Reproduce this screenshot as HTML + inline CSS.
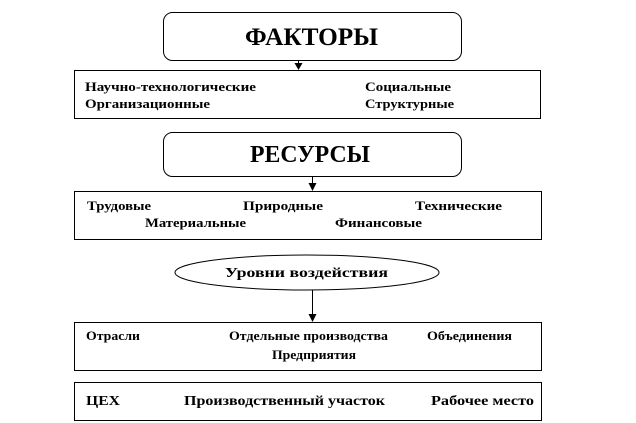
<!DOCTYPE html>
<html><head><meta charset="utf-8"><style>
html,body{margin:0;padding:0;background:#fff;}
svg{display:block}
text{font-family:"Liberation Serif",serif;font-weight:bold;fill:#000}
</style></head><body>
<svg width="636" height="423" viewBox="0 0 636 423" xmlns="http://www.w3.org/2000/svg">
<g fill="none" stroke="#000" stroke-width="1">
<rect x="163.5" y="12.5" width="298" height="48" rx="9"/>
<rect x="74.5" y="70.5" width="466" height="48"/>
<rect x="163.5" y="132.5" width="298" height="44" rx="9"/>
<rect x="74.5" y="191.5" width="467" height="48"/>
<ellipse cx="307" cy="272.5" rx="132" ry="17.5"/>
<rect x="74.5" y="322.5" width="467" height="48"/>
<rect x="74.5" y="382.5" width="467" height="38"/>
<line x1="298.5" y1="60" x2="298.5" y2="64"/>
<line x1="312.5" y1="177" x2="312.5" y2="184"/>
<line x1="312.5" y1="290" x2="312.5" y2="315"/>
</g>
<g fill="#000">
<path d="M294.5,63 L302.5,63 L298.5,70 z"/>
<path d="M308.5,183 L316.5,183 L312.5,191 z"/>
<path d="M308.5,314 L316.5,314 L312.5,322 z"/>
</g>
<text x="245" y="45" font-size="25" textLength="133" lengthAdjust="spacingAndGlyphs">ФАКТОРЫ</text>
<text x="250" y="162" font-size="24" textLength="120" lengthAdjust="spacingAndGlyphs">РЕСУРСЫ</text>
<g font-size="13">
<text x="85" y="91" textLength="171" lengthAdjust="spacingAndGlyphs">Научно-технологические</text>
<text x="365" y="91" textLength="86" lengthAdjust="spacingAndGlyphs">Социальные</text>
<text x="85" y="108" textLength="125" lengthAdjust="spacingAndGlyphs">Организационные</text>
<text x="365" y="108" textLength="89" lengthAdjust="spacingAndGlyphs">Структурные</text>
<text x="87" y="210" textLength="64" lengthAdjust="spacingAndGlyphs">Трудовые</text>
<text x="243" y="210" textLength="80" lengthAdjust="spacingAndGlyphs">Природные</text>
<text x="415" y="210" textLength="87" lengthAdjust="spacingAndGlyphs">Технические</text>
<text x="145" y="227" textLength="101" lengthAdjust="spacingAndGlyphs">Материальные</text>
<text x="335" y="227" textLength="87" lengthAdjust="spacingAndGlyphs">Финансовые</text>
<text x="86" y="340" textLength="54" lengthAdjust="spacingAndGlyphs">Отрасли</text>
<text x="229" y="340" textLength="159" lengthAdjust="spacingAndGlyphs">Отдельные производства</text>
<text x="427" y="340" textLength="85" lengthAdjust="spacingAndGlyphs">Объединения</text>
<text x="272" y="359" textLength="84" lengthAdjust="spacingAndGlyphs">Предприятия</text>
<text x="86" y="405" font-size="14" textLength="34" lengthAdjust="spacingAndGlyphs">ЦЕХ</text>
<text x="184" y="405" font-size="14" textLength="201" lengthAdjust="spacingAndGlyphs">Производственный участок</text>
<text x="431" y="405" font-size="14" textLength="103" lengthAdjust="spacingAndGlyphs">Рабочее место</text>
<text x="225" y="277" font-size="14" textLength="163" lengthAdjust="spacingAndGlyphs">Уровни воздействия</text>
</g>
</svg>
</body></html>
